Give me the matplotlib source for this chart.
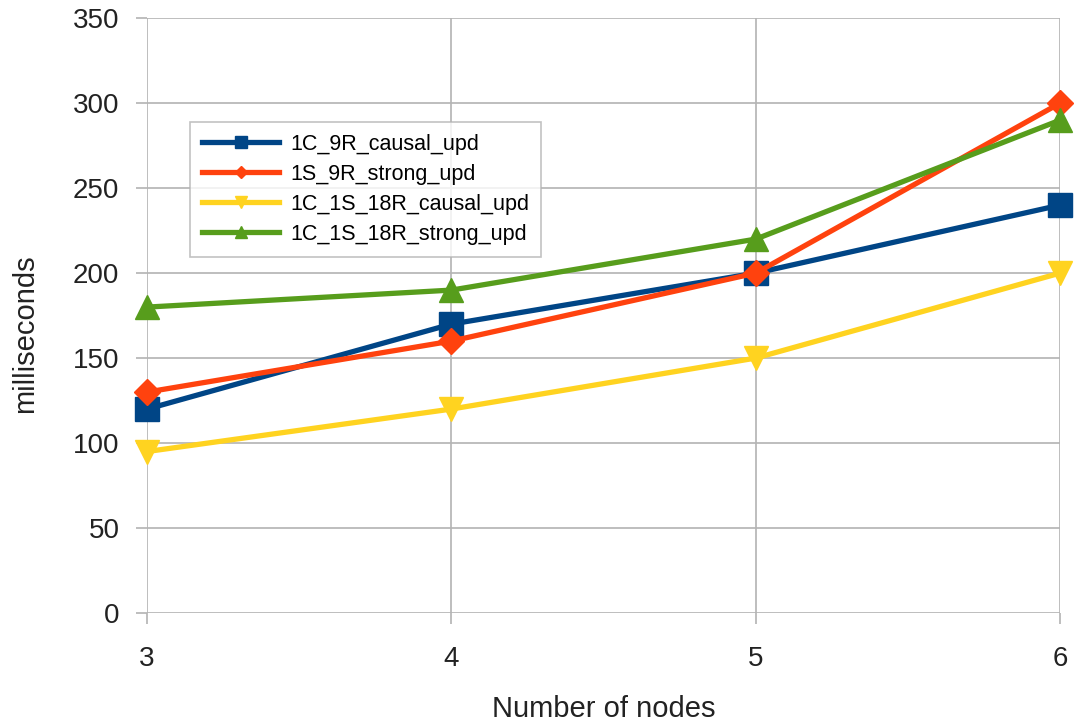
import matplotlib
matplotlib.use("Agg")
import matplotlib.pyplot as plt

nodes = [3, 4, 5, 6]
causal_9r = [120, 170, 200, 240]
strong_9r = [130, 160, 200, 300]
causal_18r = [95, 120, 150, 200]
strong_18r = [180, 190, 220, 290]

plt.rcParams["font.family"] = ["Liberation Sans", "DejaVu Sans"]

fig = plt.figure(figsize=(10.74, 7.28), dpi=100)
ax = fig.add_axes([0.137, 0.158, 0.850, 0.817])

series = [
    ("1C_9R_causal_upd", causal_9r, "#004586", "s", 17),
    ("1S_9R_strong_upd", strong_9r, "#ff420e", "D", 13),
    ("1C_1S_18R_causal_upd", causal_18r, "#ffd320", "v", 17),
    ("1C_1S_18R_strong_upd", strong_18r, "#579d1c", "^", 17),
]
for name, vals, col, mk, ms in series:
    ax.plot(nodes, vals, color=col, lw=3.8, marker=mk, markersize=ms,
            label=name, zorder=3, clip_on=False)

ax.set_xlim(3, 6)
ax.set_ylim(0, 350)
ax.set_xticks(nodes)
ax.set_yticks(range(0, 351, 50))
ax.grid(True, color="#b3b3b3", lw=1.2)
ax.set_axisbelow(True)
for s in ax.spines.values():
    s.set_visible(False)
ax.tick_params(axis="both", colors="#b3b3b3", labelcolor="#222222",
               labelsize=20, length=8, width=1.2, pad=12)
ax.tick_params(axis="x", pad=16)

ax.set_xlabel("Number of nodes", fontsize=21, color="#222222")
ax.xaxis.set_label_coords(0.5, -0.138)
ax.set_ylabel("milliseconds", fontsize=21, color="#222222")
ax.yaxis.set_label_coords(-0.118, 0.47)

leg = ax.legend(loc="upper left", bbox_to_anchor=(190 / 1074, 1 - 122 / 728),
                bbox_transform=fig.transFigure, borderaxespad=0,
                fontsize=15.5, frameon=True, fancybox=False,
                edgecolor="#b3b3b3", handlelength=3.6, handletextpad=0.5,
                markerscale=0.5, borderpad=0.55, labelspacing=0.42)
leg.get_frame().set_linewidth(1.2)

fig.savefig("out.png", dpi=100)
